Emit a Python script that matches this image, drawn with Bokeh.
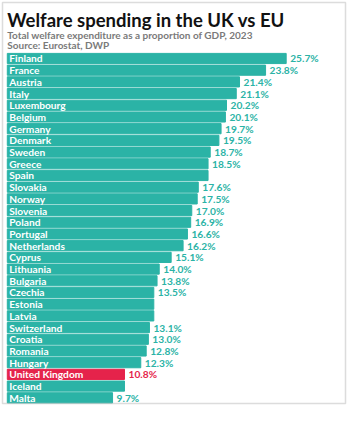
from bokeh.plotting import figure
from bokeh.models import Range1d, Label, ColumnDataSource, BoxAnnotation
from bokeh.core.properties import value
from bokeh.embed import file_html
from bokeh.resources import INLINE

countries = ["Finland", "France", "Austria", "Italy", "Luxembourg", "Belgium", "Germany",
             "Denmark", "Sweden", "Greece", "Spain", "Slovakia", "Norway", "Slovenia",
             "Poland", "Portugal", "Netherlands", "Cyprus", "Lithuania", "Bulgaria",
             "Czechia", "Estonia", "Latvia", "Switzerland", "Croatia", "Romania",
             "Hungary", "United Kingdom", "Iceland", "Malta"]
spending = [25.7, 23.8, 21.4, 21.1, 20.2, 20.1, 19.7, 19.5, 18.7, 18.5, 18.5, 17.6, 17.5,
            17.0, 16.9, 16.6, 16.2, 15.1, 14.0, 13.8, 13.5, 13.5, 13.5, 13.1, 13.0, 12.8,
            12.3, 10.8, 10.8, 9.7]
value_labels = ["25.7%", "23.8%", "21.4%", "21.1%", "20.2%", "20.1%", "19.7%", "19.5%",
                "18.7%", "18.5%", "", "17.6%", "17.5%", "17.0%", "16.9%", "16.6%", "16.2%",
                "15.1%", "14.0%", "13.8%", "13.5%", "", "", "13.1%", "13.0%", "12.8%",
                "12.3%", "10.8%", "", "9.7%"]
highlight = "United Kingdom"

TITLE = "Welfare spending in the UK vs EU"
SUBTITLE = "Total welfare expenditure as a proportion of GDP, 2023"
SOURCE = "Source: Eurostat, DWP"

TEAL = "#2bb3a6"
RED = "#e5234b"
FONT = "Lato"

pos = list(range(len(countries)))
colors = [RED if c == highlight else TEAL for c in countries]
src = ColumnDataSource(dict(y=pos, country=countries, val=spending,
                            lab=value_labels, color=colors))

W, H = 347, 405
p = figure(width=W, height=H, output_backend="svg", toolbar_location=None,
           x_range=Range1d(-0.6266, 31.35), y_range=Range1d(29.66, -4.956),
           min_border=0, x_axis_type=None, y_axis_type=None)
p.grid.visible = False
p.outline_line_color = None
p.background_fill_color = "white"
p.border_fill_color = "white"

# thin grey frame around the whole graphic
p.add_layout(BoxAnnotation(left=2, right=W - 2, bottom=2, top=H - 2,
                           left_units="screen", right_units="screen",
                           bottom_units="screen", top_units="screen",
                           fill_alpha=0, line_color="#8a8a8a", line_width=1.5,
                           level="overlay"))

p.hbar(y="y", left=0, right="val", height=0.87, color="color", source=src)
p.text(x=0, y="y", text="country", x_offset=2, text_baseline="middle",
       text_color="white", text_font=value(FONT), text_font_size="10.2px",
       text_font_style="bold", source=src)
p.text(x="val", y="y", text="lab", x_offset=4, text_baseline="middle",
       text_color="color", text_font=value(FONT), text_font_size="10.2px",
       text_font_style="bold", source=src)

p.add_layout(Label(x=0, y=-3.298, text=TITLE, text_font=FONT,
                   text_font_size="18.5px", text_font_style="bold", text_color="#111111",
                   text_baseline="alphabetic"))
p.add_layout(Label(x=0, y=-2.020, text=SUBTITLE, text_font=FONT,
                   text_font_size="10px", text_font_style="bold", text_color="#7a7a7a",
                   text_baseline="alphabetic"))
p.add_layout(Label(x=0, y=-1.110, text=SOURCE, text_font=FONT,
                   text_font_size="10px", text_font_style="bold", text_color="#7a7a7a",
                   text_baseline="alphabetic"))

open("out.html", "w").write(file_html(p, INLINE))
